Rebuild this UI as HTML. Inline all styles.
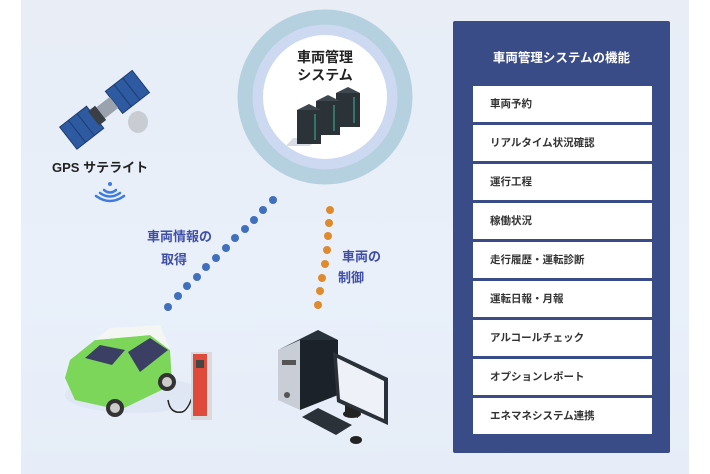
<!DOCTYPE html>
<html><head><meta charset="utf-8"><style>
body{margin:0;width:710px;height:474px;background:#fff;position:relative;overflow:hidden;font-family:"Liberation Sans","Noto Sans CJK JP",sans-serif;}
.bg{position:absolute;left:21px;top:0;width:668px;height:474px;background:linear-gradient(180deg,#e8edf6,#e9f0fa 60%,#e6edf8);}
.panel{position:absolute;left:453px;top:21px;width:217px;height:432px;background:#3a4c88;border-radius:2px;}
.ptitle{position:absolute;left:0;width:217px;top:26px;text-align:center;color:#fff;font-weight:bold;font-size:12.5px;}
.item{position:absolute;left:20px;width:179px;height:36px;background:#fff;font-size:10.5px;font-weight:bold;color:#333;line-height:36px;padding-left:17px;box-sizing:border-box;}
.lbl{position:absolute;font-weight:bold;color:#3f4fa8;font-size:13px;}
.t{position:absolute;font-weight:bold;color:#222;}
</style></head><body>
<div class="bg"></div>
<svg width="710" height="474" style="position:absolute;left:0;top:0">
<circle cx="325" cy="97" r="80" fill="#ccd9f0" stroke="#b5d0de" stroke-width="15"/>
<circle cx="325" cy="97" r="62" fill="#fff"/>
<!-- servers -->
<polygon points="293,138 318,138 310,146 286,146" fill="#d8dde5"/>
<g fill="#2c3338"><rect x="297" y="110" width="24" height="34"/><rect x="316" y="101" width="24" height="34"/><rect x="336" y="93" width="24" height="34"/></g>
<g fill="#3e474e"><polygon points="297,110 309,104 321,110"/><polygon points="316,101 328,95 340,101"/><polygon points="336,93 348,87 360,93"/></g>
<g stroke="#3bb5a0" stroke-width="1"><line x1="315" y1="114" x2="315" y2="140"/><line x1="334" y1="105" x2="334" y2="131"/><line x1="354" y1="97" x2="354" y2="123"/></g>
<!-- satellite -->
<g transform="rotate(-38 105 112)">
<rect x="60" y="96" width="34" height="28" fill="#2d5aa0" stroke="#1e3c70"/>
<line x1="71" y1="96" x2="71" y2="124" stroke="#1e3c70"/><line x1="82" y1="96" x2="82" y2="124" stroke="#1e3c70"/>
<rect x="118" y="96" width="34" height="28" fill="#2d5aa0" stroke="#1e3c70"/>
<line x1="129" y1="96" x2="129" y2="124" stroke="#1e3c70"/><line x1="140" y1="96" x2="140" y2="124" stroke="#1e3c70"/>
<rect x="94" y="103" width="24" height="14" fill="#9aa3ad"/>
<rect x="92" y="101" width="9" height="18" fill="#3a3f45"/>
</g>
<ellipse cx="138" cy="122" rx="10" ry="11" fill="#c9ccd2"/>
<!-- wifi -->
<g fill="none" stroke="#3d7be0" stroke-width="2.5" stroke-linecap="round">
<circle cx="110" cy="184" r="2" fill="#3d7be0" stroke="none"/>
<path d="M104,190 Q110,195 116,190"/><path d="M100,193 Q110,200 120,193"/><path d="M96,196 Q110,206 124,196"/>
</g>
<!-- blue dots -->
<g fill="#3f6fbd">
<circle cx="168" cy="307" r="4"/><circle cx="178" cy="296" r="4"/><circle cx="187" cy="286" r="4"/><circle cx="197" cy="277" r="4"/><circle cx="206" cy="267" r="4"/><circle cx="216" cy="258" r="4"/><circle cx="226" cy="248" r="4"/><circle cx="235" cy="238" r="4"/><circle cx="245" cy="229" r="4"/><circle cx="254" cy="220" r="4"/><circle cx="263" cy="210" r="4"/><circle cx="273" cy="200" r="4"/>
</g>
<g fill="#e08a2e">
<circle cx="330" cy="210" r="4"/><circle cx="329" cy="223" r="4"/><circle cx="328" cy="236" r="4"/><circle cx="327" cy="250" r="4"/><circle cx="325" cy="264" r="4"/><circle cx="322" cy="278" r="4"/><circle cx="320" cy="291" r="4"/><circle cx="318" cy="305" r="4"/>
</g>
<!-- car -->
<ellipse cx="135" cy="395" rx="70" ry="18" fill="#dfe6f4"/>
<path d="M65,378 L70,360 L95,340 L150,335 L170,350 L172,385 L120,410 L75,400 Z" fill="#7bd65a"/>
<path d="M95,340 L110,328 L160,325 L170,350 L150,335 Z" fill="#f4f6f4"/>
<path d="M85,358 L100,345 L125,350 L112,365 Z" fill="#3b3f63"/>
<path d="M128,352 L150,338 L168,350 L140,372 Z" fill="#3b3f63"/>
<circle cx="115" cy="408" r="9" fill="#333"/><circle cx="115" cy="408" r="5" fill="#ccc"/>
<circle cx="167" cy="382" r="9" fill="#333"/><circle cx="167" cy="382" r="5" fill="#ccc"/>
<path d="M196,383 Q190,410 182,412 Q170,414 168,400" fill="none" stroke="#222" stroke-width="1.5"/>
<rect x="191" y="352" width="21" height="68" fill="#d9dadd"/>
<rect x="193" y="354" width="14" height="62" fill="#e04a3a"/>
<rect x="196" y="360" width="8" height="8" fill="#444"/>
<!-- computer -->
<polygon points="278,350 300,340 300,410 278,400" fill="#c9ced6"/>
<polygon points="278,350 318,330 338,340 300,340" fill="#26313a"/>
<polygon points="300,340 338,340 338,395 300,410" fill="#1b2229"/>
<rect x="282" y="360" width="14" height="5" fill="#555"/>
<circle cx="287" cy="395" r="3" fill="#555"/>
<polygon points="333,352 388,378 388,425 337,402" fill="#2a3138"/>
<polygon points="337,358 384,381 384,419 340,399" fill="#eef2f8"/>
<polygon points="345,405 358,411 358,418 345,413" fill="#222"/>
<ellipse cx="352" cy="414" rx="9" ry="4" fill="#222"/>
<polygon points="302,417 318,408 352,425 336,435" fill="#2a3138"/>
<ellipse cx="356" cy="440" rx="6" ry="4" fill="#222"/>
</svg>
<div class="t" style="left:290px;top:48px;width:70px;text-align:center;font-size:14px;line-height:18px">車両管理<br>システム</div>
<div class="t" style="left:52px;top:157px;font-size:13px">GPS サテライト</div>
<div class="lbl" style="left:147px;top:226px">車両情報の</div>
<div class="lbl" style="left:161px;top:249px">取得</div>
<div class="lbl" style="left:342px;top:246px">車両の</div>
<div class="lbl" style="left:338px;top:267px">制御</div>
<div class="panel">
<div class="ptitle">車両管理システムの機能</div>
<div class="item" style="top:65px">車両予約</div>
<div class="item" style="top:104px">リアルタイム状況確認</div>
<div class="item" style="top:143px">運行工程</div>
<div class="item" style="top:182px">稼働状況</div>
<div class="item" style="top:221px">走行履歴・運転診断</div>
<div class="item" style="top:260px">運転日報・月報</div>
<div class="item" style="top:299px">アルコールチェック</div>
<div class="item" style="top:338px">オプションレポート</div>
<div class="item" style="top:377px">エネマネシステム連携</div>
</div>
</body></html>
